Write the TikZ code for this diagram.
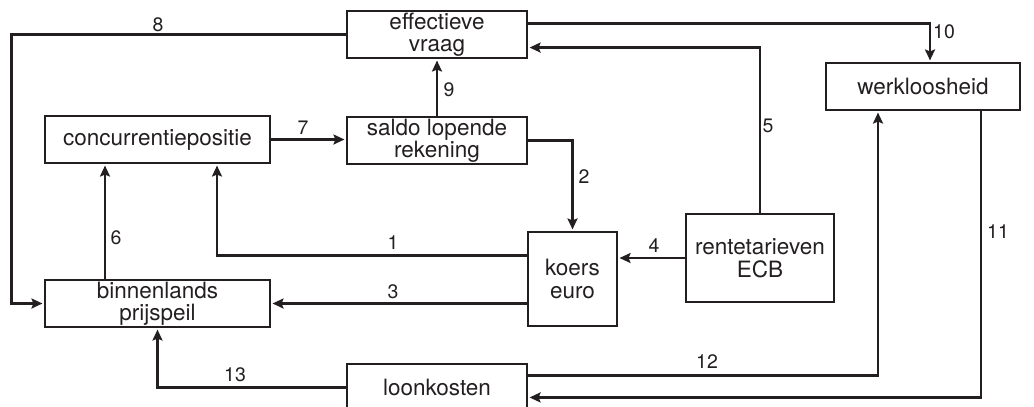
\documentclass[tikz,border=0pt]{standalone}
\usepackage{fontspec}
\setmainfont{TeX Gyre Heros}
\usetikzlibrary{calc}
\usetikzlibrary{arrows.meta}
\usetikzlibrary{positioning}
\definecolor{ink}{HTML}{231F20}
\tikzset{>={Stealth[length=11pt,width=10pt,inset=2pt]}}
\tikzset{blok/.style = {rectangle, draw=ink, line width=1.1pt, align=center, inner sep=0pt,
  font=\fontsize{22.5}{22.5}\selectfont, text=ink}}
\tikzset{pijl/.style = {->, draw=ink, line width=2.3pt, shorten >=2pt}}
\tikzset{nr/.style = {draw=none, inner sep=0pt, font=\fontsize{19.5}{19.5}\selectfont, text=ink}}

\begin{document}
\begin{tikzpicture}[x=1pt, y=-1pt]
\useasboundingbox (0,0) rectangle (1034,407);
\node [blok, minimum width=180, minimum height=47] (vraag) at (437, 34.5) {effectieve\\vraag};
\node [blok, minimum width=225, minimum height=47] (conc) at (157.5, 139.5) {concurrentiepositie};
\node [blok, minimum width=180, minimum height=47] (saldo) at (437, 140.5) {saldo lopende\\rekening};
\node [blok, minimum width=194, minimum height=47] (werk) at (923, 86.5) {werkloosheid};
\node [blok, minimum width=225, minimum height=47] (prijs) at (157.5, 303.5) {binnenlands\\prijspeil};
\node [blok, minimum width=180, minimum height=47] (loon) at (437, 387.5) {loonkosten};
\node [blok, minimum width=89, minimum height=94] (koers) at (572.5, 279) {koers\\euro};
\node [blok, minimum width=148, minimum height=88] (rente) at (760, 258) {rentetarieven\\ECB};
\draw [pijl] (vraag.west) -- ++(-335,0) |- (prijs.west);
\draw [pijl] (saldo.north) -- (vraag.south);
\draw [pijl] (conc.east) -- (conc.east -| saldo.west);
\draw [pijl] ($(vraag.north east)+(0,13)$) -| ($(werk.north)+(7,0)$);
\draw [pijl] (rente.north) |- ($(vraag.south east)+(0,-11)$);
\draw [pijl] (saldo.east) -| (koers.north);
\draw [pijl] ($(koers.north west)+(0,24)$) -| ($(conc.south)+(59.5,0)$);
\draw [pijl] ($(prijs.north)+(-52.5,0)$) -- ($(conc.south)+(-52.5,0)$);
\draw [pijl] (prijs.east -| koers.west) -- (prijs.east);
\draw [pijl] (rente.west) -- (rente.west -| koers.east);
\draw [pijl] (loon.west) -| (prijs.south);
\draw [pijl] ($(loon.north east)+(0,12)$) -| ($(werk.south)+(-45,0)$);
\draw [pijl] ($(werk.south)+(58,0)$) |- ($(loon.north east)+(0,34)$);
\node [nr] (n1) at (393, 243) {1};
\node [nr] (n2) at (584, 177) {2};
\node [nr] (n3) at (393, 292) {3};
\node [nr] (n4) at (654, 246) {4};
\node [nr] (n5) at (768, 126) {5};
\node [nr] (n6) at (116, 238) {6};
\node [nr] (n7) at (303, 128) {7};
\node [nr] (n8) at (158, 25) {8};
\node [nr] (n9) at (449, 90) {9};
\node [nr] (n10) at (944, 32) {10};
\node [nr] (n11) at (998, 232) {11};
\node [nr] (n12) at (707, 362) {12};
\node [nr] (n13) at (235, 375) {13};
\end{tikzpicture}
\end{document}
